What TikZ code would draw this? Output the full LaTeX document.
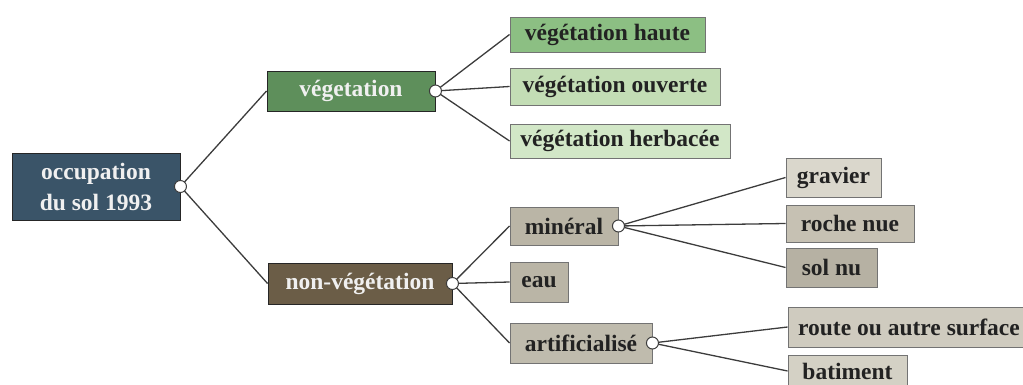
\documentclass[tikz,border=0pt]{standalone}
\usepackage{fontspec}
\setmainfont{Liberation Serif}
\definecolor{cRoot}{HTML}{3A5468}
\definecolor{cVeg}{HTML}{5E8F5B}
\definecolor{cHaute}{HTML}{8CBF83}
\definecolor{cOuv}{HTML}{C3DDB5}
\definecolor{cHerb}{HTML}{D2E7C7}
\definecolor{cNon}{HTML}{6B5D47}
\definecolor{cMin}{HTML}{BAB5A6}
\definecolor{cEau}{HTML}{BAB5A6}
\definecolor{cArt}{HTML}{BFBBAD}
\definecolor{cGrav}{HTML}{DAD7CC}
\definecolor{cRoche}{HTML}{C6C1B3}
\definecolor{cSol}{HTML}{B6B1A3}
\definecolor{cRoute}{HTML}{CFCBBF}
\definecolor{cBat}{HTML}{D4D1C5}
\definecolor{cLine}{HTML}{3C3C3C}
\definecolor{cDark}{HTML}{222222}
\tikzset{
  box/.style={draw=#1, line width=0.9pt, rectangle, inner sep=0pt, align=center,
    font=\fontsize{23.5}{31}\selectfont\bfseries},
  darkbox/.style={box=black!85, text=white!94!black},
  lightbox/.style={box=black!55, text=cDark},
  link/.style={draw=cLine, line width=1.3pt},
  dot/.style={circle, draw=cLine, fill=white, line width=1pt, minimum size=12pt, inner sep=0pt}
}
\begin{document}
\begin{tikzpicture}[x=1pt,y=-1pt]
\useasboundingbox (0,0) rectangle (1023,385);
% boxes
\node[darkbox, fill=cRoot, minimum width=168pt, minimum height=67pt] (root) at (96,186.5) {occupation\\du sol 1993};
\node[darkbox, fill=cVeg, minimum width=168pt, minimum height=40pt] (veg) at (351,91) {végetation};
\node[darkbox, fill=cNon, minimum width=184pt, minimum height=41pt] (non) at (360,283.5) {non-végétation};
\node[lightbox, fill=cHaute, minimum width=195pt, minimum height=35pt] (haute) at (607.5,34.5) {végétation haute};
\node[lightbox, fill=cOuv, minimum width=210pt, minimum height=37pt] (ouv) at (615,86.5) {végétation ouverte};
\node[lightbox, fill=cHerb, minimum width=220pt, minimum height=34pt] (herb) at (620,141) {végétation herbacée};
\node[lightbox, fill=cMin, minimum width=108pt, minimum height=38pt] (min) at (564,226) {minéral};
\node[lightbox, fill=cEau, minimum width=58pt, minimum height=40pt] (eau) at (539,282) {eau};
\node[lightbox, fill=cArt, minimum width=142pt, minimum height=40pt] (art) at (581,343) {artificialisé};
\node[lightbox, fill=cGrav, minimum width=95pt, minimum height=39pt] (grav) at (833.5,177.5) {gravier};
\node[lightbox, fill=cRoche, minimum width=128pt, minimum height=37pt] (roche) at (850,223.5) {roche nue};
\node[lightbox, fill=cSol, minimum width=91pt, minimum height=39pt] (sol) at (831.5,267.5) {sol nu};
\node[lightbox, fill=cRoute, minimum width=242pt, minimum height=40pt] (route) at (909,327) {route ou autre surface};
\node[lightbox, fill=cBat, minimum width=119pt, minimum height=32pt] (bat) at (847.5,371) {batiment};
% connectors
\draw[link] (root.east) -- (veg.west);
\draw[link] (root.east) -- (non.west);
\draw[link] (veg.east) -- (haute.west);
\draw[link] (veg.east) -- (ouv.west);
\draw[link] (veg.east) -- (herb.west);
\draw[link] (non.east) -- (min.west);
\draw[link] (non.east) -- (eau.west);
\draw[link] (non.east) -- (art.west);
\draw[link] (min.east) -- (grav.west);
\draw[link] (min.east) -- (roche.west);
\draw[link] (min.east) -- (sol.west);
\draw[link] (art.east) -- (route.west);
\draw[link] (art.east) -- (bat.west);
% junction dots
\node[dot] (d1) at (root.east) {};
\node[dot] (d2) at (veg.east) {};
\node[dot] (d3) at (non.east) {};
\node[dot] (d4) at (min.east) {};
\node[dot] (d5) at (art.east) {};
\end{tikzpicture}
\end{document}
